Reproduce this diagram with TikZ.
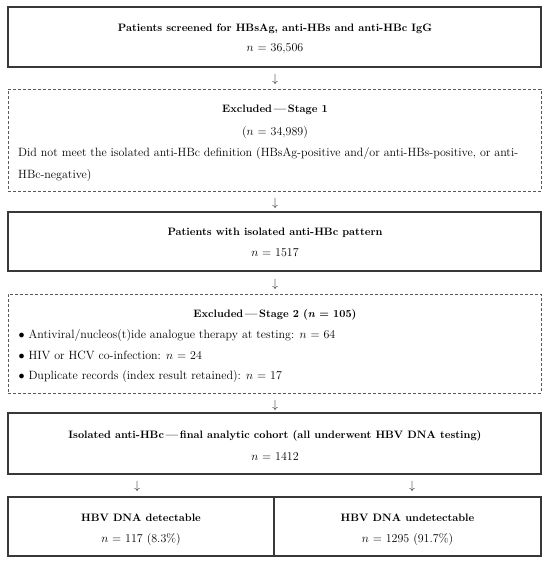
\documentclass[tikz,border=0pt]{standalone}
\begin{document}
\begin{tikzpicture}[x=1pt,y=-1pt,
  every node/.style={font=\fontsize{12}{14}\selectfont},
  solidbox/.style={draw=black!78, line width=1.3pt, inner sep=0pt, minimum width=533pt},
  halfbox/.style={draw=black!78, line width=1.3pt, inner sep=0pt},
  dashbox/.style={draw=black!65, line width=1pt, dash pattern=on 3pt off 2pt, inner sep=0pt, minimum width=533pt},
  ttl/.style={font=\fontsize{10.75}{13}\selectfont\bfseries, anchor=base, inner sep=0pt},
  txt/.style={anchor=base, inner sep=0pt},
  txtl/.style={anchor=base west, inner sep=0pt},
  arr/.style={inner sep=0pt, anchor=center, text=black!85}
]
\useasboundingbox (0,0) rectangle (550,563);
\fill[white] (0,0) rectangle (550,563);

% boxes
\node[solidbox, minimum height=60pt] (b1) at (274.5,37) {};
\node[dashbox, minimum height=102pt] (b2) at (274.5,140) {};
\node[solidbox, minimum height=59pt] (b3) at (274.5,241.5) {};
\node[dashbox, minimum height=99pt] (b4) at (274.5,343.5) {};
\node[solidbox, minimum height=61pt] (b5) at (274.5,443.5) {};
\node[halfbox, minimum width=266pt, minimum height=59pt] (b6a) at (141,526.5) {};
\node[halfbox, minimum width=267pt, minimum height=59pt] (b6b) at (407.5,526.5) {};

% box 1
\node[ttl] (t1a) at (275,31.7) {Patients screened for HBsAg, anti-HBs and anti-HBc IgG};
\node[txt] (t1b) at (275,51) {$n$ = 36,506};

% box 2
\node[ttl] (t2a) at (275,112.3) {Excluded\,---\,Stage 1};
\node[txt] (t2b) at (275,135.7) {($n$ = 34,989)};
\node[txtl] (t2c) at (18,156.7) {Did not meet the isolated anti-HBc definition (HBsAg-positive and/or anti-HBs-positive, or anti-};
\node[txtl] (t2d) at (18,178) {HBc-negative)};

% box 3
\node[ttl] (t3a) at (275,235) {Patients with isolated anti-HBc pattern};
\node[txt] (t3b) at (275,256) {$n$ = 1517};

% box 4
\node[ttl] (t4a) at (275,317) {Excluded\,---\,Stage 2 (\textit{n} = 105)};
\node[txt] (p1) at (21.7,338.3) {$\bullet$};
\node[txtl] (t4b) at (28.3,338.3) {Antiviral/nucleos(t)ide analogue therapy at testing: $n$ = 64};
\node[txt] (p2) at (21.7,359) {$\bullet$};
\node[txtl] (t4c) at (28.3,359) {HIV or HCV co-infection: $n$ = 24};
\node[txt] (p3) at (21.7,379) {$\bullet$};
\node[txtl] (t4d) at (28.3,379) {Duplicate records (index result retained): $n$ = 17};

% box 5
\node[ttl] (t5a) at (275,438.3) {Isolated anti-HBc\,---\,final analytic cohort (all underwent HBV DNA testing)};
\node[txt] (t5b) at (275,460) {$n$ = 1412};

% box 6
\node[ttl] (t6a) at (141,521) {HBV DNA detectable};
\node[txt] (t6b) at (141,542) {$n$ = 117 (8.3\%)};
\node[ttl] (t6c) at (407.5,521) {HBV DNA undetectable};
\node[txt] (t6d) at (407.5,542) {$n$ = 1295 (91.7\%)};

% arrows (glyphs)
\node[arr] (a1) at (275,79) {$\downarrow$};
\node[arr] (a2) at (275,203) {$\downarrow$};
\node[arr] (a3) at (275,284) {$\downarrow$};
\node[arr] (a4) at (275,405) {$\downarrow$};
\node[arr] (a5) at (137,486) {$\downarrow$};
\node[arr] (a6) at (412,486) {$\downarrow$};
\end{tikzpicture}
\end{document}
